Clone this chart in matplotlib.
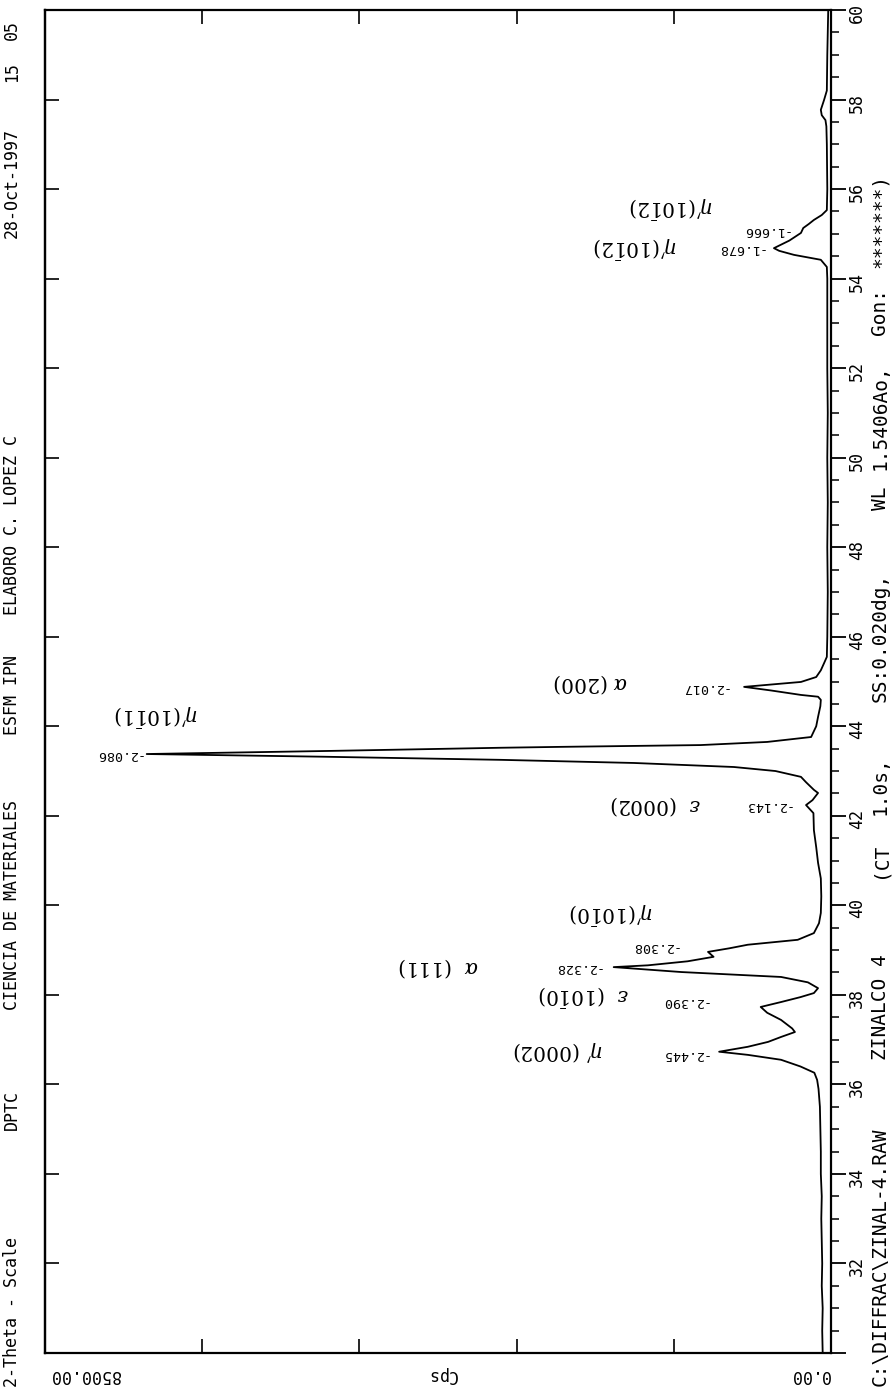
import matplotlib
matplotlib.use("Agg")
import matplotlib.pyplot as plt
from matplotlib.ticker import MultipleLocator, FuncFormatter

plt.rcParams['font.family'] = 'DejaVu Sans Mono'
plt.rcParams['mathtext.fontset'] = 'dejavuserif'

# Diffractogram: 2-theta (deg) and counts per second
two_theta = [30.0, 30.5, 31.0, 31.5, 32.0, 32.5, 33.0, 33.5, 34.0, 34.5, 35.0, 35.5,
             35.9, 36.1, 36.26, 36.4, 36.55, 36.66, 36.73, 36.84, 36.95, 37.06, 37.17,
             37.25, 37.44, 37.6, 37.73, 37.84, 37.95, 38.04, 38.15, 38.28, 38.4, 38.51,
             38.62, 38.66, 38.75, 38.85, 38.96, 39.04, 39.12, 39.23, 39.38, 39.6, 39.83,
             40.2, 40.6, 40.95, 41.3, 41.68, 42.06, 42.15, 42.24, 42.35, 42.51, 42.58,
             42.75, 42.87, 43.0, 43.09, 43.18, 43.25, 43.32, 43.38, 43.45, 43.52, 43.54,
             43.58, 43.65, 43.76, 44.0, 44.21, 44.45, 44.59, 44.66, 44.7, 44.8, 44.88,
             44.95, 44.99, 45.1, 45.25, 45.41, 45.55, 46.0, 47.0, 48.0, 49.0, 50.0, 51.0,
             52.0, 53.0, 54.0, 54.26, 54.42, 54.53, 54.62, 54.68, 54.85, 55.02, 55.13,
             55.22, 55.31, 55.42, 55.53, 56.0, 57.0, 57.4, 57.54, 57.65, 57.77, 57.99,
             58.2, 59.0, 60.0]
cps = [90, 95, 90, 100, 95, 100, 105, 100, 110, 110, 115, 120,
       135, 150, 180, 330, 540, 900, 1210, 900, 680, 540, 390,
       420, 540, 690, 760, 540, 330, 185, 140, 250, 540, 1620,
       2350, 1980, 1550, 1270, 1330, 1100, 900, 360, 185, 130, 110,
       105, 110, 140, 160, 185, 190, 230, 270, 200, 140, 185,
       270, 325, 600, 1050, 2130, 3570, 5500, 7400, 5400, 3570, 2920,
       1410, 690, 215, 160, 140, 115, 110, 140, 325, 650, 940,
       550, 325, 160, 110, 75, 45, 40, 35, 40, 35, 40, 35,
       40, 40, 40, 45, 110, 400, 560, 617, 450, 325, 300,
       240, 185, 100, 45, 40, 45, 50, 60, 100, 110, 75,
       45, 40, 30]

# Labelled reflections: tip position, d-spacing label and phase / plane
peak_theta = [36.73, 37.73, 38.62, 38.96, 42.24, 43.38, 44.88, 54.68, 55.13]
peak_cps = [1210, 760, 2350, 1330, 270, 7400, 940, 617, 300]
peak_d = ["-2.445", "-2.390", "-2.328", "-2.308", "-2.143", "-2.086", "-2.017", "-1.678", "-1.666"]
peak_phase = [r"$\eta'$ (0002)", r"$\varepsilon$  (10$\bar{1}$0)", r"$\alpha$  (111)",
              r"$\eta'$(10$\bar{1}$0)", r"$\varepsilon$  (0002)", r"$\eta'$(10$\bar{1}$1)",
              r"$\alpha$ (200)", r"$\eta'$(10$\bar{1}$2)", r"$\eta'$(10$\bar{1}$2)"]
# label offsets from the tip, in pixels
d_offset = [(-11, -3), (-53, 5), (-13, 0), (-30, 5), (-15, 0), (-5, 0), (-16, -1), (-10, 0), (-15, -2)]
phase_offset = [(-115, 2), (-132, 10), (-135, 0), (-54, 39), (-105, 0), (52, 39), (-116, 4), (-96, 1), (-89, 21)]

W, H = 893, 1389
fig = plt.figure(figsize=(W / 100, H / 100), dpi=100)
ax = fig.add_axes([45 / W, 36 / H, (831 - 45) / W, (1353 - 10) / H])

ax.plot(cps, two_theta, color='black', lw=1.3)
ax.set_xlim(8500, 0)
ax.set_ylim(30, 60)
for s in ax.spines.values():
    s.set_linewidth(1.6)

# 2-theta scale on the right, ticks pointing out
ax.yaxis.tick_right()
ax.yaxis.set_major_locator(MultipleLocator(2))
ax.yaxis.set_minor_locator(MultipleLocator(0.5))
ax.yaxis.set_major_formatter(FuncFormatter(lambda v, p: "" if v < 31 else f"{v:.0f}"))
ax.tick_params(axis='y', which='major', direction='out', length=11, width=1.3,
               labelsize=12, labelrotation=90, pad=1)
ax.tick_params(axis='y', which='minor', direction='out', length=6, width=1.1)

# plain inward ticks on the left side
sec = ax.secondary_yaxis('left')
sec.yaxis.set_major_locator(MultipleLocator(2))
sec.tick_params(direction='in', length=10, width=1.2, labelleft=False)
sec.spines['left'].set_linewidth(1.6)

# counts axis: unlabelled ticks top and bottom
ax.set_xticks([1700, 3400, 5100, 6800])
ax.tick_params(axis='x', direction='in', length=10, width=1.2, top=True, bottom=True,
               labelbottom=False)

for i in range(len(peak_d)):
    ax.annotate(peak_d[i], xy=(peak_cps[i], peak_theta[i]), xytext=d_offset[i],
                textcoords='offset pixels', rotation=180, rotation_mode='anchor',
                ha='left', va='center', fontsize=9.5)
    ax.annotate(peak_phase[i], xy=(peak_cps[i], peak_theta[i]), xytext=phase_offset[i],
                textcoords='offset pixels', rotation=180, rotation_mode='anchor',
                ha='left', va='center', fontsize=14.5, family='DejaVu Serif')


def px(x, y):
    return x / W, 1 - y / H


# intensity scale labels (upside down, below the frame)
for txt, xc in [("8500.00", 85), ("Cps", 442), ("0.00", 810)]:
    fig.text(*px(xc, 1375), txt, rotation=180, ha='center', va='center', fontsize=12)

# header strip along the left edge
header = [("2-Theta - Scale", 1387), ("DPTC", 1130), ("CIENCIA DE MATERIALES", 1010),
          ("ESFM IPN", 735), ("ELABORO C. LOPEZ C", 615), ("28-Oct-1997", 238),
          ("15", 82), ("05", 40)]
for txt, y0 in header:
    fig.text(*px(12, y0), txt, rotation=90, rotation_mode='anchor', ha='left',
             va='center', fontsize=12)

# file / scan info along the right edge
info = [("C:\\DIFFRAC\\ZINAL-4.RAW", 1386), ("ZINALCO 4", 1060), ("(CT", 878),
        ("1.0s,", 815), ("SS:0.020dg,", 702), ("WL", 510), ("1.5406Ao,", 470),
        ("Gon:", 335), ("*******)", 268)]
for txt, y0 in info:
    fig.text(*px(880, y0), txt, rotation=90, rotation_mode='anchor', ha='left',
             va='center', fontsize=14)

fig.savefig("out.png", dpi=100)
